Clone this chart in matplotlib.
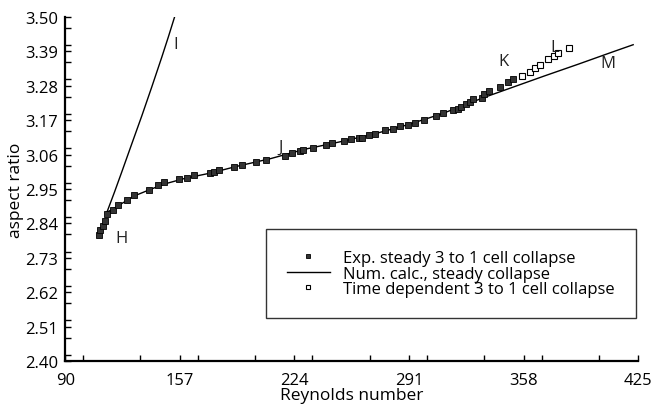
"""Aspect ratio vs Reynolds number for the 3 to 1 cell collapse."""
import numpy as np
import matplotlib
matplotlib.use("Agg")
import matplotlib.pyplot as plt
from matplotlib.ticker import MultipleLocator, FixedLocator

plt.rcParams["font.family"] = ["Open Sans", "DejaVu Sans"]

# Experimental steady 3 to 1 collapse (filled squares)
exp_re = [109.5, 110.6, 112.0, 113.4, 114.7, 118.1, 120.6, 126.3, 130.0, 138.7,
          144.0, 148.0, 156.7, 161.0, 165.3, 174.6, 177.0, 179.7, 188.6, 193.1,
          201.3, 207.4, 218.5, 222.6, 227.0, 228.8, 234.6, 242.6, 246.0, 253.0,
          257.0, 261.9, 263.5, 267.6, 271.3, 277.1, 281.4, 285.7, 290.4, 294.7,
          299.5, 307.0, 310.6, 316.5, 319.4, 321.6, 324.0, 326.5, 328.6, 333.7,
          334.6, 337.8, 344.0, 348.9, 351.6]
exp_ar = [2.804, 2.819, 2.833, 2.848, 2.870, 2.884, 2.898, 2.914, 2.930, 2.948,
          2.963, 2.971, 2.981, 2.985, 2.996, 3.000, 3.004, 3.012, 3.020, 3.026,
          3.035, 3.042, 3.057, 3.064, 3.072, 3.076, 3.081, 3.090, 3.097, 3.103,
          3.110, 3.112, 3.114, 3.122, 3.127, 3.137, 3.142, 3.151, 3.156, 3.162,
          3.171, 3.184, 3.192, 3.203, 3.206, 3.211, 3.221, 3.228, 3.236, 3.242,
          3.252, 3.262, 3.275, 3.292, 3.302]

# Time dependent collapse (open squares)
td_re = [356.8, 361.5, 364.4, 367.3, 372.5, 375.6, 378.3, 384.7]
td_ar = [3.310, 3.325, 3.336, 3.347, 3.365, 3.374, 3.384, 3.402]

# Numerical calculation, steady collapse branch H-J-M
num_re = [114.4, 118, 121, 126, 130, 139, 148, 160, 175, 190, 210, 230,
          250, 270, 290, 310, 334.6, 350, 370, 390, 410, 422]
num_ar = [2.876, 2.886, 2.897, 2.913, 2.927, 2.947, 2.966, 2.984, 3.001,
          3.022, 3.047, 3.077, 3.100, 3.125, 3.155, 3.190, 3.242, 3.272, 3.311,
          3.349, 3.388, 3.411]

# Branch H-I
br_re = [114.4, 118.8, 123.1, 128.9, 134.8, 140.6, 146.5, 150.3, 153.9]
br_ar = [2.876, 2.940, 3.005, 3.094, 3.184, 3.276, 3.372, 3.436, 3.499]

labels = ["H", "I", "J", "K", "L", "M"]
label_re = [123, 154.3, 216, 346, 376, 407.5]
label_ar = [2.795, 3.414, 3.085, 3.360, 3.405, 3.352]

fig = plt.figure(figsize=(6.52, 4.06), dpi=100)
ax = fig.add_axes([0.1, 0.108, 0.879, 0.848])

ax.plot(num_re, num_ar, color="black", lw=1.0,
        label="Num. calc., steady collapse")
ax.plot(br_re, br_ar, color="black", lw=1.0)
ax.plot(exp_re, exp_ar, ls="none", marker="s", ms=4.5, mfc="#333333",
        mec="black", mew=0.6, label="Exp. steady 3 to 1 cell collapse")
ax.plot(td_re, td_ar, ls="none", marker="s", ms=4, mfc="white",
        mec="black", mew=0.8, label="Time dependent 3 to 1 cell collapse")

for t, x, y in zip(labels, label_re, label_ar):
    ax.text(x, y, t, fontsize=12, color="#222222", ha="center", va="center")

ax.set_xlim(90, 425)
ax.set_ylim(2.40, 3.50)
xt = [90, 157, 224, 291, 358, 425]
yt = [2.40, 2.51, 2.62, 2.73, 2.84, 2.95, 3.06, 3.17, 3.28, 3.39, 3.50]
ax.xaxis.set_major_locator(FixedLocator(xt))
ax.xaxis.set_minor_locator(MultipleLocator(33.5))
ax.yaxis.set_major_locator(FixedLocator(yt))
ax.yaxis.set_minor_locator(MultipleLocator(0.055))
ax.set_xticklabels([str(v) for v in xt])
ax.set_yticklabels([f"{v:.2f}" for v in yt])
ax.tick_params(which="both", direction="in", length=4, width=1, labelsize=12)
ax.tick_params(axis="x", pad=8)
ax.tick_params(axis="y", pad=5)
for s in ["top", "right"]:
    ax.spines[s].set_visible(False)
for s in ["left", "bottom"]:
    ax.spines[s].set_linewidth(1.6)

ax.set_xlabel("Reynolds number", fontsize=12.5, labelpad=-1)
ax.set_ylabel("aspect ratio", fontsize=12.5, labelpad=1)

handles, lbls = ax.get_legend_handles_labels()
order = [1, 0, 2]
leg = ax.legend([handles[i] for i in order], [lbls[i] for i in order],
                loc="lower right", bbox_to_anchor=(0.9955, 0.125),
                fontsize=12, frameon=True, fancybox=False, edgecolor="black",
                handlelength=2.6, borderpad=1.25, labelspacing=-0.02,
                handletextpad=0.8, borderaxespad=0, markerscale=0.75)
leg.get_frame().set_linewidth(1.0)

fig.savefig("out.png", dpi=100)
